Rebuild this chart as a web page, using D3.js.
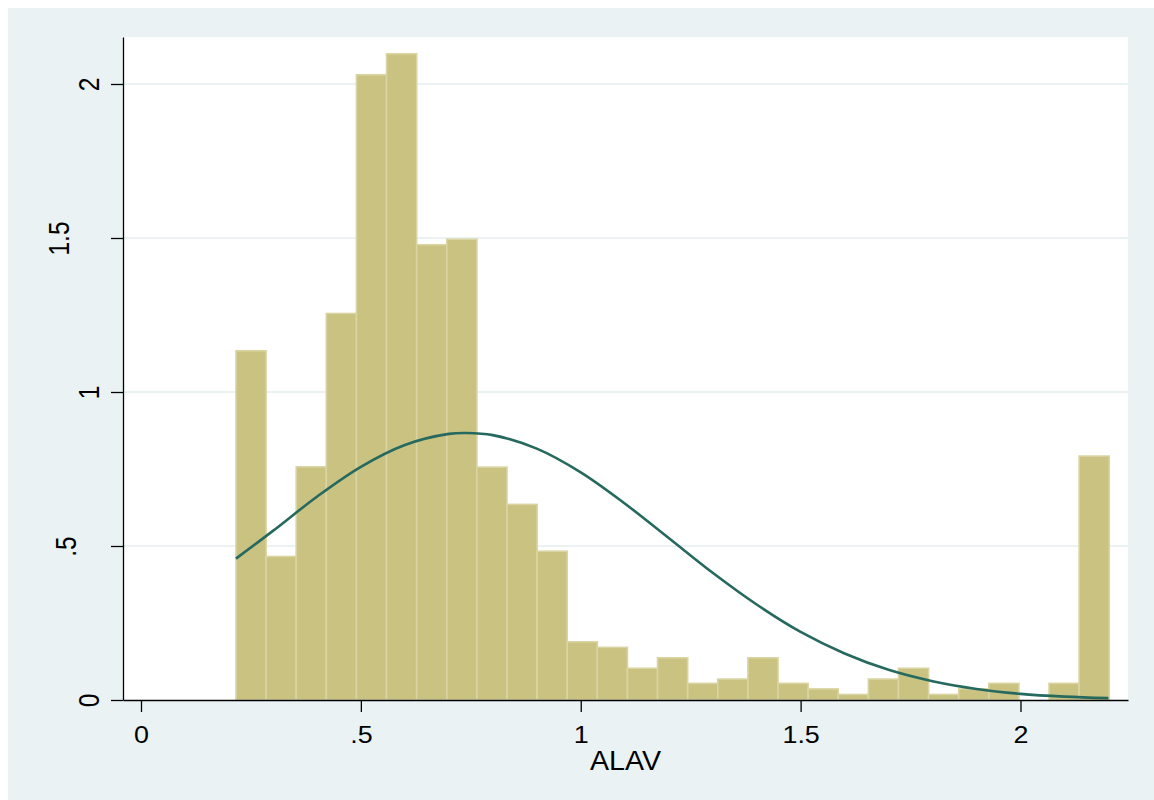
<!DOCTYPE html>
<html>
<head>
<meta charset="utf-8">
<script src="https://cdn.jsdelivr.net/npm/d3@7"></script>
<style>
  html, body { margin: 0; padding: 0; background: #ffffff; }
  svg { display: block; }
  text { font-family: "Liberation Sans", Arial, Helvetica, sans-serif; fill: #000; }
</style>
</head>
<body>
<svg id="chart" width="1154" height="800"></svg>
<script>
// ---- data ----
const binStart = 0.216;          // left edge of the first bin
const binWidth = 0.06848;        // width of every bin
const densities = [1.134, 0.466, 0.757, 1.255, 2.030, 2.098, 1.478, 1.496, 0.756, 0.635,
                   0.483, 0.189, 0.171, 0.103, 0.137, 0.054, 0.068, 0.137, 0.054, 0.036,
                   0.018, 0.068, 0.103, 0.018, 0.036, 0.054, 0.000, 0.054, 0.792];
const curveX = [0.216, 0.3, 0.4, 0.5, 0.6, 0.7, 0.74, 0.8, 0.9, 1.0, 1.1, 1.2, 1.3,
                1.4, 1.5, 1.6, 1.7, 1.8, 1.9, 2.0, 2.1, 2.2];
const curveY = [0.459, 0.549, 0.660, 0.757, 0.828, 0.864, 0.867, 0.860, 0.816, 0.739,
                0.638, 0.526, 0.413, 0.310, 0.221, 0.151, 0.098, 0.061, 0.036, 0.020,
                0.011, 0.006];
const xTicks = [0, 0.5, 1, 1.5, 2];
const xTickLabels = ["0", ".5", "1", "1.5", "2"];
const yTicks = [0, 0.5, 1, 1.5, 2];
const yTickLabels = ["0", ".5", "1", "1.5", "2"];
const xTitle = "ALAV";

// ---- layout ----
const W = 1154, H = 800;
const plot = { left: 123, right: 1128, top: 37, bottom: 700 };
const svg = d3.select("#chart");

svg.append("rect").attr("x", 8).attr("y", 8).attr("width", W - 8).attr("height", H - 8)
  .attr("fill", "#eaf2f3");
svg.append("rect").attr("x", plot.left).attr("y", plot.top)
  .attr("width", plot.right - plot.left).attr("height", plot.bottom - plot.top)
  .attr("fill", "#ffffff");

const x = d3.scaleLinear().domain([-0.04093, 2.2445]).range([plot.left, plot.right]);
const y = d3.scaleLinear().domain([0, 2.1526]).range([plot.bottom, plot.top]);

// grid lines
svg.append("g").selectAll("line").data(yTicks.filter(d => d > 0)).join("line")
  .attr("x1", plot.left).attr("x2", plot.right)
  .attr("y1", d => y(d)).attr("y2", d => y(d))
  .attr("stroke", "#eaf2f3").attr("stroke-width", 2);

// bars
const bins = densities.map((d, i) => ({
  x0: binStart + i * binWidth, x1: binStart + (i + 1) * binWidth, d
})).filter(b => b.d > 0);
svg.append("g").selectAll("rect").data(bins).join("rect")
  .attr("x", b => x(b.x0))
  .attr("y", b => y(b.d))
  .attr("width", b => x(b.x1) - x(b.x0))
  .attr("height", b => y(0) - y(b.d))
  .attr("fill", "#cac281")
  .attr("stroke", "#d9d4a2")
  .attr("stroke-width", 1.6);

// normal density curve
const line = d3.line().x(d => x(d[0])).y(d => y(d[1])).curve(d3.curveCatmullRom);
svg.append("path").datum(curveX.map((v, i) => [v, curveY[i]]))
  .attr("d", line).attr("fill", "none")
  .attr("stroke", "#26695f").attr("stroke-width", 2.6);

// x axis
const xAxis = d3.axisBottom(x).tickValues(xTicks).tickSize(12).tickSizeOuter(0)
  .tickFormat((d, i) => xTickLabels[i]);
const gx = svg.append("g").attr("transform", `translate(0,${plot.bottom})`).call(xAxis);
gx.select(".domain").attr("stroke", "#000").attr("stroke-width", 1.3);
gx.selectAll(".tick line").attr("stroke", "#000").attr("stroke-width", 1.3);
gx.selectAll(".tick text").attr("y", null).attr("dy", null)
  .attr("font-size", 24).attr("text-anchor", "middle")
  .attr("transform", "translate(0,43) scale(1.12,1)");

// y axis
const yAxis = d3.axisLeft(y).tickValues(yTicks).tickSize(12).tickSizeOuter(0)
  .tickFormat((d, i) => yTickLabels[i]);
const gy = svg.append("g").attr("transform", `translate(${plot.left},0)`).call(yAxis);
gy.select(".domain").attr("stroke", "#000").attr("stroke-width", 1.3);
gy.selectAll(".tick line").attr("stroke", "#000").attr("stroke-width", 1.3);
const yLabelCenter = { "0": -34, ".5": -57, "1": -34, "1.5": -64.5, "2": -34.5 };
gy.selectAll(".tick text").attr("x", null).attr("dy", "0.35em")
  .attr("font-size", 24.5).attr("text-anchor", "middle")
  .attr("transform", function () {
    const t = d3.select(this).text();
    return `translate(${yLabelCenter[t]},0) scale(1.22,1) rotate(-90)`;
  });

// axis title
svg.append("text").attr("text-anchor", "middle").attr("font-size", 27)
  .attr("transform", `translate(${(plot.left + plot.right) / 2},770) scale(1.06,1)`)
  .text(xTitle);
</script>
</body>
</html>
